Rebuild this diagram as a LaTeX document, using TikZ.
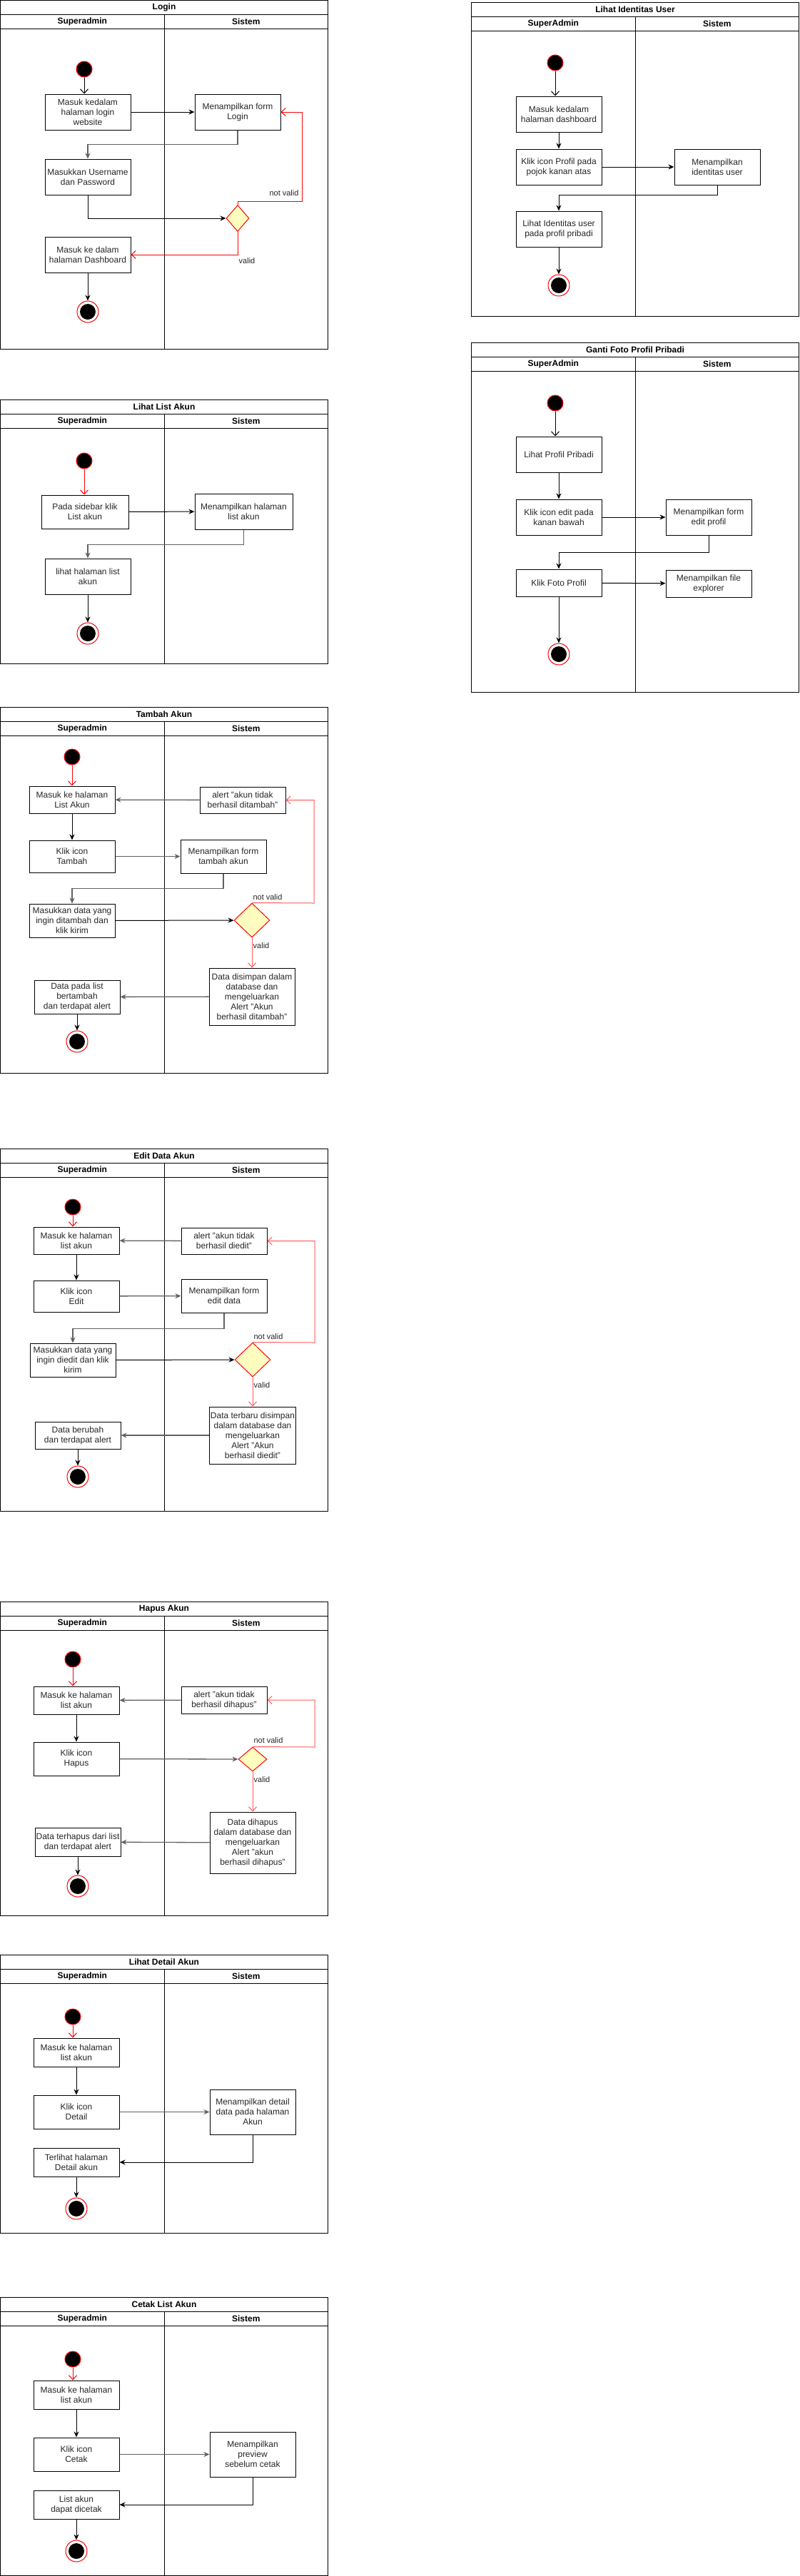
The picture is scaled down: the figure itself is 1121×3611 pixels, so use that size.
\documentclass[tikz,border=0pt]{standalone}
\usepackage{fontspec}
\setmainfont{Liberation Sans}
\usetikzlibrary{arrows.meta,shapes.geometric}
\newcommand{\pool}[7]{%
	\draw (#1,#2) rectangle ++(#3,#4);
	\draw (#1,#2+20) -- ++(#3,0);
	\draw (#1,#2+40) -- ++(#3,0);
	\draw (#1+#3/2,#2+20) -- ++(0,#4-20);
	\node[lane] at (#1+#3/2,#2+10) {#5};
	\node[lane] at (#1+#3/4,#2+30) {#6};
	\node[lane] at (#1+3*#3/4,#2+30) {#7};
}

\begin{document}
\begin{tikzpicture}[x=1pt,y=-1pt,line width=1pt,
	act/.style={draw,rectangle,minimum width=120,minimum height=50,inner sep=1,align=center,text=black!85,font=\fontsize{12}{14}\selectfont},
	lane/.style={font=\fontsize{12}{14}\selectfont\bfseries},
	lbl/.style={text=black!85,font=\fontsize{11}{13}\selectfont},
	initst/.style={circle,fill=black,draw=red,minimum size=22,inner sep=0},
	finalst/.style={circle,draw=red,fill=white,minimum size=30,inner sep=0,path picture={\fill[black] (path picture bounding box.center) circle[radius=11pt];}},
	choice/.style={diamond,draw=red,fill=yellow!25,inner sep=0},
	flow/.style={-{Stealth[length=8pt,width=7pt]}},
	greyflow/.style={flow,draw=black!62,line width=1.3pt},
	openflow/.style={-{Straight Barb[length=6pt,width=11pt]}},
	redflow/.style={openflow,draw=red}]
	\useasboundingbox (0,0) rectangle (1121,3611);

	% Login
	\pool{0.5}{0.5}{459}{489}{Login}{Superadmin}{Sistem}
	\node[initst] (ls) at (118,97) {};
	\node[act] (l1) at (123,157) {Masuk kedalam\\halaman login\\website};
	\node[act] (l2) at (333,157) {Menampilkan form\\Login};
	\node[act] (l3) at (123,248) {Masukkan Username\\dan Password};
	\node[choice,minimum width=32,minimum height=37] (ld) at (333,306) {};
	\node[act] (l4) at (123,357) {Masuk ke dalam\\halaman Dashboard};
	\node[finalst] (le) at (123,437) {};
	\coordinate (lr) at (423,282);
	\node[lbl] (lnv) at (398,271) {not valid};
	\node[lbl] (lv) at (346,366) {valid};
	\draw[openflow] (ls) -- (ls |- l1.north);
	\draw[flow] (l1) -- (l2);
	\draw[greyflow] (l2.south) -- ++(0,20) -| (l3.north);
	\draw[flow] (l3.south) |- (ld.west);
	\draw[redflow] (ld.north) |- (lr) |- (l2.east);
	\draw[redflow] (ld.south) |- (l4.east);
	\draw[flow] (l4) -- (le);

	% Lihat Identitas User
	\pool{660.5}{3}{459}{440}{Lihat Identitas User}{SuperAdmin}{Sistem}
	\node[initst] (is) at (778,88) {};
	\node[act] (i1) at (783,160) {Masuk kedalam\\halaman dashboard};
	\node[act] (i2) at (783,234) {Klik icon Profil pada\\pojok kanan atas};
	\node[act] (i3) at (1005,234) {Menampilkan\\identitas user};
	\node[act] (i4) at (783,321) {Lihat Identitas user\\pada profil pribadi};
	\node[finalst] (ie) at (783,400) {};
	\draw[openflow] (is) -- (is |- i1.north);
	\draw[flow] (i1) -- (i2);
	\draw[flow] (i2) -- (i3);
	\draw[flow] (i3.south) -- ++(0,14) -| (i4.north);
	\draw[flow] (i4) -- (ie);

	% Ganti Foto Profil Pribadi
	\pool{660.5}{480}{459}{490}{Ganti Foto Profil Pribadi}{SuperAdmin}{Sistem}
	\node[initst] (gs) at (778,565) {};
	\node[act] (g1) at (783,637) {Lihat Profil Pribadi};
	\node[act] (g2) at (783,725) {Klik icon edit pada\\kanan bawah};
	\node[act] (g3) at (993,725) {Menampilkan form\\edit profil};
	\node[act,minimum height=38] (g4) at (783,817) {Klik Foto Profil};
	\node[act,minimum height=38] (g5) at (993,818) {Menampilkan file\\explorer};
	\node[finalst] (ge) at (783,917) {};
	\draw[openflow] (gs) -- (gs |- g1.north);
	\draw[flow] (g1) -- (g2);
	\draw[flow] (g2) -- (g3);
	\draw[flow] (g3.south) -- ++(0,24) -| (g4.north);
	\draw[flow] (g4) -- (g5);
	\draw[flow] (g4) -- (ge);

	% Lihat List Akun
	\pool{0.5}{560}{459}{370}{Lihat List Akun}{Superadmin}{Sistem}
	\node[initst] (as) at (118,646) {};
	\node[act,minimum width=122,minimum height=47] (a1) at (119,717.5) {Pada sidebar klik\\List akun};
	\node[act,minimum width=137] (a2) at (341.5,717) {Menampilkan halaman\\list akun};
	\node[act] (a3) at (123,808) {lihat halaman list\\akun};
	\node[finalst] (ae) at (123,888) {};
	\draw[redflow] (as) -- (as |- a1.north);
	\draw[flow] (a1) -- (a2);
	\draw[greyflow] (a2.south) -- ++(0,21) -| (a3.north);
	\draw[flow] (a3) -- (ae);

	% Tambah Akun
	\pool{0.5}{991}{459}{513}{Tambah Akun}{Superadmin}{Sistem}
	\node[initst] (ts) at (101,1061) {};
	\node[act,minimum height=38] (t1) at (101,1121) {Masuk ke halaman\\List Akun};
	\node[act,minimum height=37] (t2) at (340,1121.5) {alert "akun tidak\\berhasil ditambah"};
	\node[act,minimum height=45] (t3) at (101,1200.5) {Klik icon\\Tambah};
	\node[act,minimum height=47] (t4) at (313,1200.5) {Menampilkan form\\tambah akun};
	\node[act,minimum height=47] (t5) at (101,1290.5) {Masukkan data yang\\ingin ditambah dan\\klik kirim};
	\node[choice,minimum width=50,minimum height=48] (td) at (353,1290) {};
	\node[act,minimum height=80] (t6) at (353,1397) {Data disimpan dalam\\database dan\\mengeluarkan\\Alert "Akun\\berhasil ditambah"};
	\node[act,minimum height=47] (t7) at (108,1397.5) {Data pada list\\bertambah\\dan terdapat alert};
	\node[finalst] (te) at (108,1460) {};
	\coordinate (tr) at (440,1266);
	\node[lbl] (tnv) at (375,1258) {not valid};
	\node[lbl] (tv) at (366,1326) {valid};
	\draw[redflow] (ts) -- (t1);
	\draw[greyflow] (t2) -- (t1);
	\draw[flow] (t1) -- (t3);
	\draw[greyflow] (t3) -- (t4);
	\draw[greyflow] (t4.south) -- ++(0,21) -| (t5.north);
	\draw[flow] (t5) -- (td);
	\draw[redflow,draw=red!65] (td.north) -- (tr) |- (t2.east);
	\draw[redflow,draw=red!65] (td) -- (t6);
	\draw[greyflow] (t6) -- (t7);
	\draw[flow] (t7) -- (te);

	% Edit Data Akun
	\pool{0.5}{1610}{459}{508}{Edit Data Akun}{Superadmin}{Sistem}
	\node[initst] (es) at (102,1692) {};
	\node[act,minimum height=38] (e1) at (107,1739) {Masuk ke halaman\\list akun};
	\node[act,minimum height=37] (e2) at (314,1739.5) {alert "akun tidak\\berhasil diedit"};
	\node[act,minimum height=44] (e3) at (107,1817) {Klik icon\\Edit};
	\node[act,minimum height=47] (e4) at (314,1816.5) {Menampilkan form\\edit data};
	\node[act,minimum height=47] (e5) at (102,1906.5) {Masukkan data yang\\ingin diedit dan klik\\kirim};
	\node[choice,minimum width=50,minimum height=48] (ed) at (354,1906) {};
	\node[act,minimum height=80] (e6) at (354,2012) {Data terbaru disimpan\\dalam database dan\\mengeluarkan\\Alert "Akun\\berhasil diedit"};
	\node[act,minimum height=38] (e7) at (109,2012) {Data berubah\\dan terdapat alert};
	\node[finalst] (ee) at (109,2070) {};
	\coordinate (er) at (441,1882);
	\node[lbl] (env) at (376,1874) {not valid};
	\node[lbl] (ev) at (367,1942) {valid};
	\draw[redflow] (es) -- (es |- e1.north);
	\draw[greyflow] (e2) -- (e1);
	\draw[flow] (e1) -- (e3);
	\draw[greyflow] (e3) -- (e4);
	\draw[greyflow] (e4.south) -- ++(0,22) -| (e5.north);
	\draw[flow] (e5) -- (ed);
	\draw[redflow,draw=red!65] (ed.north) -- (er) |- (e2.east);
	\draw[redflow,draw=red!65] (ed) -- (e6);
	\draw[greyflow] (e6) -- (e7);
	\draw[flow] (e7) -- (ee);

	% Hapus Akun
	\pool{0.5}{2245}{459}{440}{Hapus Akun}{Superadmin}{Sistem}
	\node[initst] (hs) at (102,2326) {};
	\node[act,minimum height=39] (h1) at (107,2383.5) {Masuk ke halaman\\list akun};
	\node[act,minimum height=38] (h2) at (314,2383) {alert "akun tidak\\berhasil dihapus"};
	\node[act,minimum height=47] (h3) at (107,2465.5) {Klik icon\\Hapus};
	\node[choice,minimum width=40,minimum height=34] (hd) at (354,2466) {};
	\node[act,minimum height=86] (h4) at (354,2583) {Data dihapus\\dalam database dan\\mengeluarkan\\Alert "akun\\berhasil dihapus"};
	\node[act,minimum height=40] (h5) at (109,2582) {Data terhapus dari list\\dan terdapat alert};
	\node[finalst] (he) at (109,2644) {};
	\coordinate (hr) at (441,2449);
	\node[lbl] (hnv) at (376,2440) {not valid};
	\node[lbl] (hv) at (367,2495) {valid};
	\draw[redflow] (hs) -- (hs |- h1.north);
	\draw[greyflow] (h2) -- (h1);
	\draw[flow] (h1) -- (h3);
	\draw[greyflow] (h3) -- (hd);
	\draw[redflow,draw=red!65] (hd.north) -- (hr) |- (h2.east);
	\draw[redflow,draw=red!65] (hd) -- (h4);
	\draw[greyflow] (h4) -- (h5);
	\draw[flow] (h5) -- (he);

	% Lihat Detail Akun
	\pool{0.5}{2740}{459}{390}{Lihat Detail Akun}{Superadmin}{Sistem}
	\node[initst] (ds) at (102,2827) {};
	\node[act,minimum height=40] (d1) at (107,2877) {Masuk ke halaman\\list akun};
	\node[act,minimum height=47] (d2) at (107,2960.5) {Klik icon\\Detail};
	\node[act,minimum height=63] (d3) at (354,2960.5) {Menampilkan detail\\data pada halaman\\Akun};
	\node[act,minimum height=40] (d4) at (107,3031) {Terlihat halaman\\Detail akun};
	\node[finalst] (de) at (107,3096) {};
	\draw[redflow] (ds) -- (ds |- d1.north);
	\draw[flow] (d1) -- (d2);
	\draw[greyflow] (d2) -- (d3);
	\draw[flow] (d3.south) |- (d4.east);
	\draw[flow] (d4) -- (de);

	% Cetak List Akun
	\pool{0.5}{3220}{459}{390}{Cetak List Akun}{Superadmin}{Sistem}
	\node[initst] (cs) at (102,3307) {};
	\node[act,minimum height=40] (c1) at (107,3357) {Masuk ke halaman\\list akun};
	\node[act,minimum height=47] (c2) at (107,3440.5) {Klik icon\\Cetak};
	\node[act,minimum height=63] (c3) at (354,3440.5) {Menampilkan\\preview\\sebelum cetak};
	\node[act,minimum height=40] (c4) at (107,3511) {List akun\\dapat dicetak};
	\node[finalst] (ce) at (107,3576) {};
	\draw[redflow] (cs) -- (cs |- c1.north);
	\draw[flow] (c1) -- (c2);
	\draw[greyflow] (c2) -- (c3);
	\draw[flow] (c3.south) |- (c4.east);
	\draw[flow] (c4) -- (ce);
\end{tikzpicture}
\end{document}
